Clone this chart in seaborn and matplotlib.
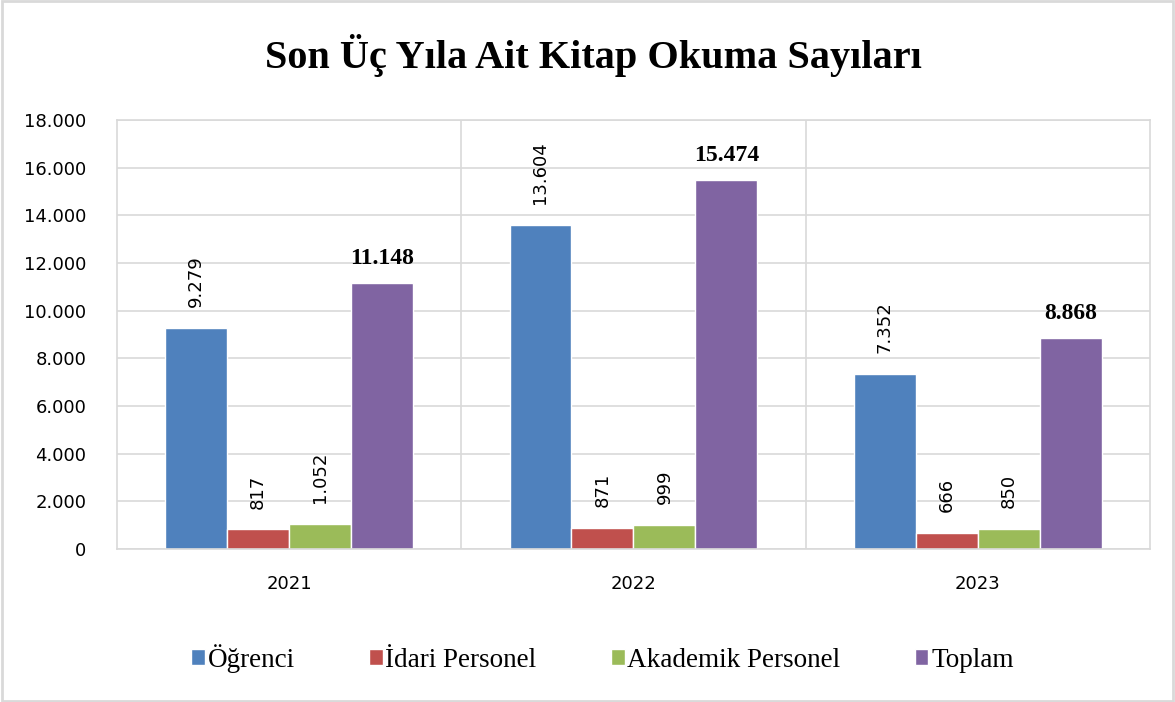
import matplotlib
matplotlib.use("Agg")
import matplotlib.pyplot as plt
import pandas as pd
import seaborn as sns
from matplotlib.patches import Rectangle

years = ["2021", "2022", "2023"]
groups = ["Öğrenci", "İdari Personel", "Akademik Personel", "Toplam"]
ogrenci = [9279, 13604, 7352]
idari = [817, 871, 666]
akademik = [1052, 999, 850]
toplam = [11148, 15474, 8868]
colors = ["#4F81BD", "#C0504D", "#9BBB59", "#8064A2"]

rows = []
for g, vals in zip(groups, [ogrenci, idari, akademik, toplam]):
    for y, v in zip(years, vals):
        rows.append({"Yıl": y, "Grup": g, "Sayı": v})
df = pd.DataFrame(rows)


def fmt(v):
    return f"{int(v):,}".replace(",", ".")


sns.set_style("white")
plt.rcParams["font.family"] = ["DejaVu Sans"]
plt.rcParams["text.color"] = "black"
plt.rcParams["xtick.color"] = "black"
plt.rcParams["ytick.color"] = "black"

fig = plt.figure(figsize=(11.75, 7.02), dpi=100)
ax = fig.add_axes([0.0996, 0.218, 0.879, 0.611])

sns.barplot(data=df, x="Yıl", y="Sayı", hue="Grup", hue_order=groups,
            palette=colors, width=0.72, gap=0, saturation=1, ax=ax)

ax.set_ylim(0, 18000)
ax.set_xlim(-0.5, 2.5)
ax.set_yticks(range(0, 18001, 2000))
ax.set_yticklabels([fmt(t) for t in range(0, 18001, 2000)], fontsize=13)
ax.tick_params(axis="x", labelsize=13, length=0, pad=19)
ax.tick_params(axis="y", length=0, pad=22)
ax.set_xticks([0.5, 1.5], minor=True)
ax.grid(axis="y", color="#d9d9d9", linewidth=1.2)
ax.grid(axis="x", which="minor", color="#d9d9d9", linewidth=1.2)
ax.set_axisbelow(True)
for s in ax.spines.values():
    s.set_color("#d9d9d9")
    s.set_linewidth(1.2)
ax.set_xlabel("")
ax.set_ylabel("")

for cont, g in zip(ax.containers, groups):
    labels = [fmt(b.get_height()) for b in cont]
    if g == "Toplam":
        ax.bar_label(cont, labels=labels, padding=10, fontsize=17,
                     fontweight="bold", family="Liberation Serif")
    else:
        ax.bar_label(cont, labels=labels, padding=15, fontsize=13,
                     rotation=90)

leg = ax.legend(loc="center", bbox_to_anchor=(0.47, -0.255), ncol=4, frameon=False,
                prop={"family": "Liberation Serif", "size": 19.5},
                handlelength=0.5, handleheight=0.5, handletextpad=0.1,
                columnspacing=2.75)

fig.suptitle("Son Üç Yıla Ait Kitap Okuma Sayıları", x=0.505, y=0.952,
             fontsize=29, fontweight="bold", family="Liberation Serif")

fig.patches.append(Rectangle((0.002, 0.002), 0.996, 0.996, transform=fig.transFigure,
                             fill=False, edgecolor="#d9d9d9", linewidth=2))

fig.savefig("out.png", dpi=100)
